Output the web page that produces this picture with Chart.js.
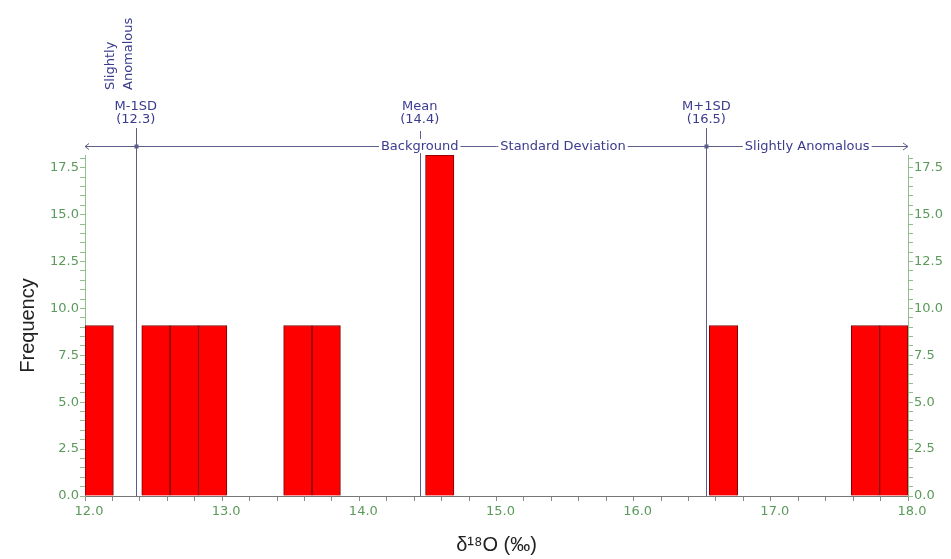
<!DOCTYPE html>
<html>
<head>
<meta charset="utf-8">
<script src="https://cdn.jsdelivr.net/npm/chart.js@4.4.1/dist/chart.umd.min.js"></script>
<style>
  html, body { margin: 0; padding: 0; background: #fff; }
  #wrap { width: 951px; height: 559px; }
</style>
</head>
<body>
<div id="wrap"><canvas id="histChart" width="951" height="559"></canvas></div>
<script>
// ----------------------
// DATA
// ----------------------
// bin starts (29 bins between 12.0 and 18.0)
const binStarts = [
  "12.000", "12.207", "12.414", "12.621", "12.828", "13.034", "13.241", "13.448",
  "13.655", "13.862", "14.069", "14.276", "14.483", "14.690", "14.897", "15.103",
  "15.310", "15.517", "15.724", "15.931", "16.138", "16.345", "16.552", "16.759",
  "16.966", "17.172", "17.379", "17.586", "17.793"
];
const frequency = [
  9.09, 0, 9.09, 9.09, 9.09, 0, 0, 9.09,
  9.09, 0, 0, 0, 18.18, 0, 0, 0,
  0, 0, 0, 0, 0, 0, 9.09, 0,
  0, 0, 0, 9.09, 9.09
];

const xMin = 12.0;
const xMax = 18.0;
const yMax = 18.18;

// threshold lines
const statValues = [12.37, 14.44, 16.53];
const statNames = ["M-1SD", "Mean", "M+1SD"];
const statLabels = ["(12.3)", "(14.4)", "(16.5)"];
const zoneNames = ["Slightly Anomalous", "Background", "Standard Deviation", "Slightly Anomalous"];

const BLUE = "#3b3b8f";
const GREEN = "#5a9a5a";
const NOTE_FONT = "'DejaVu Sans', Verdana, sans-serif";

// ----------------------
// ANNOTATIONS
// ----------------------
const statPlugin = {
  id: "statLines",
  afterDraw(chart) {
    const ctx = chart.ctx;
    const xs = chart.scales.xv;
    const area = chart.chartArea;
    const lineY = area.top - 9;

    ctx.save();
    ctx.strokeStyle = "#5d5d8a";
    ctx.lineWidth = 1;

    // horizontal range line with arrows
    ctx.beginPath();
    ctx.moveTo(area.left, lineY + 0.5);
    ctx.lineTo(area.right, lineY + 0.5);
    ctx.moveTo(area.left + 4, lineY - 2.5);
    ctx.lineTo(area.left, lineY + 0.5);
    ctx.lineTo(area.left + 4, lineY + 3.5);
    ctx.moveTo(area.right - 5, lineY - 3);
    ctx.lineTo(area.right, lineY + 0.5);
    ctx.lineTo(area.right - 5, lineY + 4);
    ctx.stroke();

    // vertical lines
    statValues.forEach((v, i) => {
      const px = Math.round(xs.getPixelForValue(v)) + 0.5;
      const y0 = i === 1 ? area.top - 24 : area.top - 27;
      ctx.beginPath();
      ctx.moveTo(px, y0);
      ctx.lineTo(px, area.bottom);
      ctx.stroke();
      if (i !== 1) {
        ctx.fillStyle = "#5d5d8a";
        ctx.fillRect(px - 2, lineY - 1.5, 4, 4);
      }
    });

    ctx.font = "13px " + NOTE_FONT;
    ctx.textAlign = "center";
    ctx.textBaseline = "middle";

    // names and values above lines
    statValues.forEach((v, i) => {
      const px = xs.getPixelForValue(v);
      ctx.fillStyle = BLUE;
      ctx.fillText(statNames[i], px, area.top - 48);
      ctx.fillText(statLabels[i], px, area.top - 35);
    });

    // zone labels on the range line
    const zoneX = [
      (xMin + statValues[0]) / 2,
      statValues[1],
      (statValues[1] + statValues[2]) / 2,
      (statValues[2] + xMax) / 2
    ];
    for (let i = 1; i < zoneNames.length; i++) {
      const px = xs.getPixelForValue(zoneX[i]);
      const w = ctx.measureText(zoneNames[i]).width;
      ctx.fillStyle = "#fff";
      ctx.fillRect(px - w / 2 - 2, lineY - 7, w + 4, 14);
      ctx.fillStyle = BLUE;
      ctx.fillText(zoneNames[i], px, lineY + 1);
    }

    // rotated label for the lower anomalous zone
    const lx = xs.getPixelForValue(zoneX[0]);
    ctx.translate(lx, area.top - 65);
    ctx.rotate(-Math.PI / 2);
    ctx.textAlign = "left";
    ctx.fillStyle = BLUE;
    const parts = zoneNames[0].split(" ");
    ctx.fillText(parts[0], 0, 0);
    ctx.fillText(parts[1], 0, 18);
    ctx.restore();
  }
};

// ----------------------
// CHART
// ----------------------
const isMultiple = (v, step) => Math.abs(v / step - Math.round(v / step)) < 1e-6;

const tickFont = { family: "'DejaVu Sans', Verdana, sans-serif", size: 13 };

function yAxis(position, width) {
  return {
    type: "linear",
    position,
    min: 0,
    max: yMax,
    afterFit: s => { s.width = width; },
    border: { color: "#8fbf8f" },
    grid: { drawOnChartArea: false, tickLength: 5, color: "#8fbf8f" },
    ticks: {
      stepSize: 0.5,
      includeBounds: false,
      autoSkip: false,
      padding: 1,
      color: GREEN,
      font: tickFont,
      callback: v => isMultiple(v, 2.5) ? v.toFixed(1) : ""
    }
  };
}

const ctx = document.getElementById("histChart");

new Chart(ctx, {
  type: "bar",
  data: {
    labels: binStarts,
    datasets: [{
      label: "Frequency",
      data: frequency,
      backgroundColor: "#ff0000",
      borderColor: "#7a0000",
      borderWidth: 1,
      categoryPercentage: 1,
      barPercentage: 1,
      xAxisID: "x",
      yAxisID: "y"
    }]
  },
  options: {
    responsive: false,
    animation: false,
    layout: { padding: { top: 155, left: 0, right: 0, bottom: 0 } },
    plugins: {
      legend: { display: false },
      tooltip: { enabled: false }
    },
    scales: {
      x: { type: "category", display: false },
      xv: {
        type: "linear",
        axis: "x",
        position: "bottom",
        offset: false,
        min: xMin,
        max: xMax,
        afterFit: s => { s.height = 63; },
        border: { color: "#777" },
        grid: { drawOnChartArea: false, offset: false, tickLength: 5, color: "#888" },
        ticks: {
          stepSize: 0.2,
          autoSkip: false,
          maxRotation: 0,
          padding: 3,
          labelOffset: 4,
          color: GREEN,
          font: tickFont,
          callback: v => isMultiple(v, 1) ? v.toFixed(1) : ""
        },
        title: {
          display: true,
          text: "δ¹⁸O (‰)",
          color: "#222",
          font: { family: "'Liberation Sans', Arial, sans-serif", size: 20 },
          padding: { top: 0, bottom: 2 }
        }
      },
      y: Object.assign(yAxis("left", 85), {
        title: {
          display: true,
          text: "Frequency",
          color: "#222",
          font: { family: "'Liberation Sans', Arial, sans-serif", size: 20 },
          padding: { top: 16, bottom: 0 }
        }
      }),
      y2: yAxis("right", 43)
    }
  },
  plugins: [statPlugin]
});
</script>
</body>
</html>
